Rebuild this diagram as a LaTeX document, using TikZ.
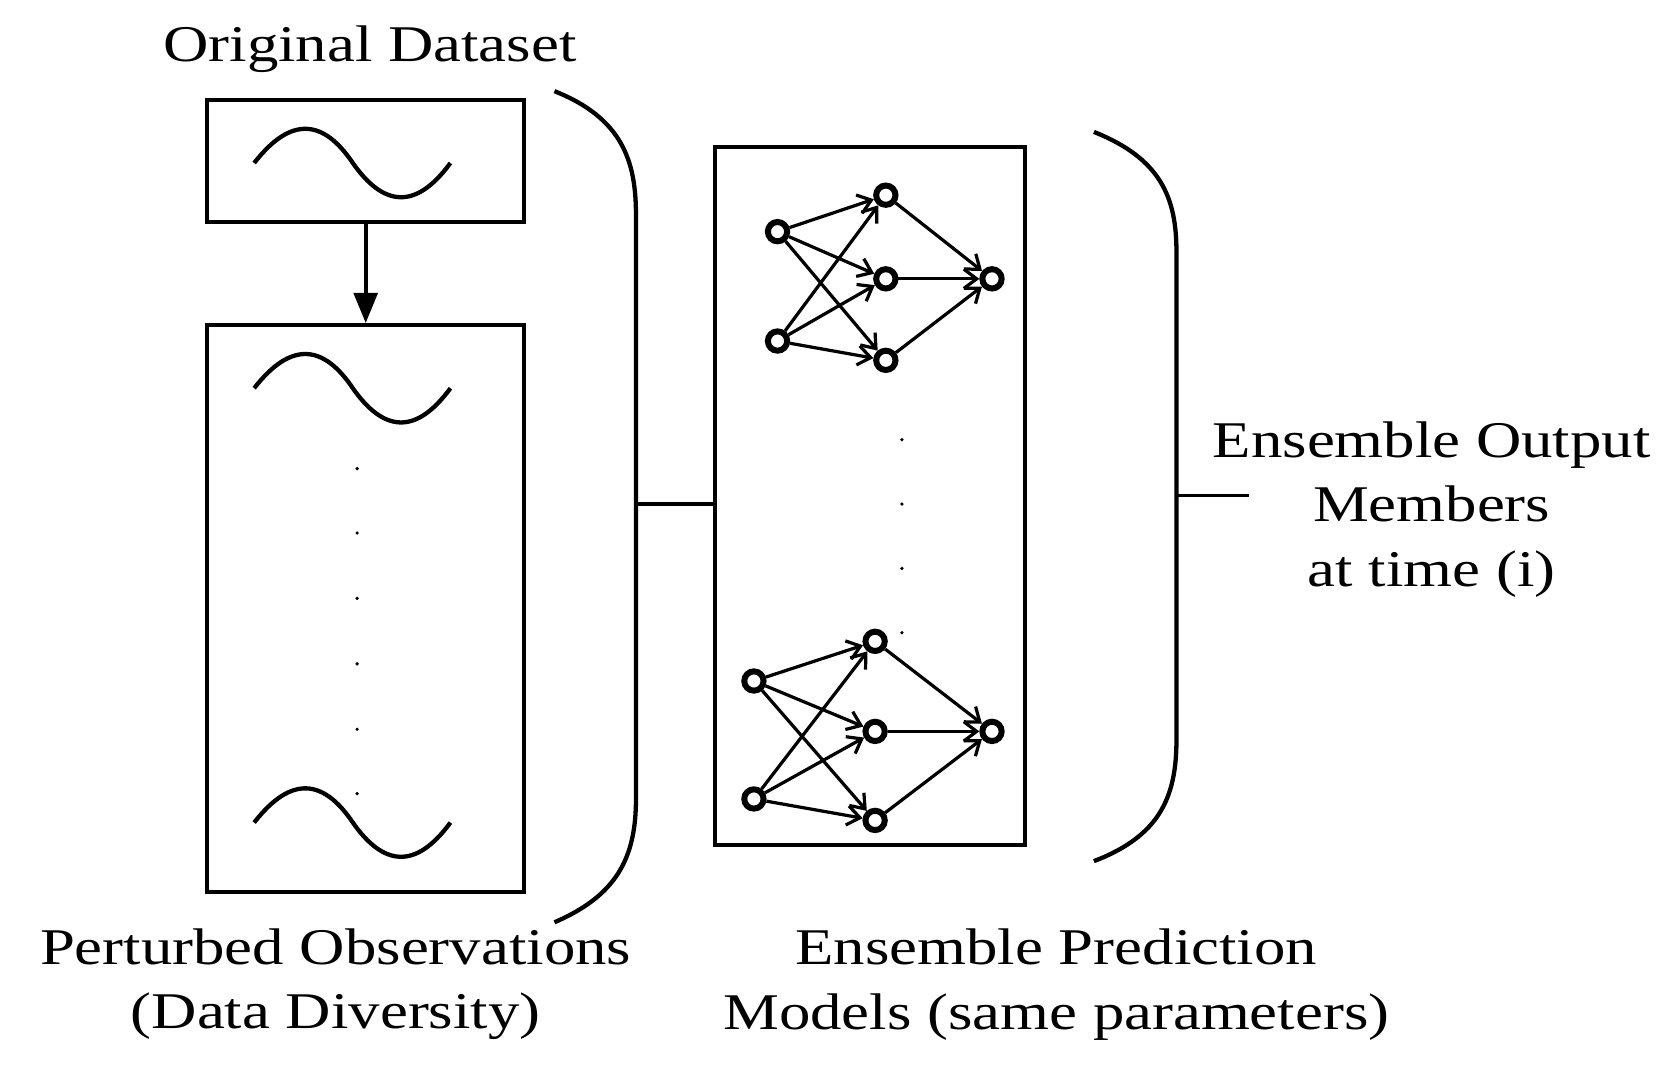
\documentclass[tikz,border=0pt]{standalone}
\usepackage{fontspec}
\setmainfont{Liberation Serif}[FakeStretch=1.22]
\usetikzlibrary{arrows.meta}
\begin{document}
\begin{tikzpicture}[x=0.5pt,y=-0.5pt,line width=1.6pt,
  lbl/.style={font=\fontsize{24}{30}\selectfont,align=center},
  box/.style={draw,line width=1.8pt},
  neu/.style={circle,draw,line width=2.8pt,minimum size=9pt,inner sep=0pt},
  con/.style={line width=1.5pt,-{Straight Barb[length=6pt,width=9pt]}},
  dot/.style={circle,fill,inner sep=0.6pt}]
\useasboundingbox (0,0) rectangle (1560,1001);
\def\wave#1#2{\draw[line width=2pt] (#1,#2) .. controls (#1+35,#2-45) and (#1+65,#2-40) .. (#1+92,#2) .. controls (#1+120,#2+40) and (#1+150,#2+45) .. (#1+183,#2);}
\node[lbl] (od) at (345,46) {Original Dataset};
\node[box,minimum width=148pt,minimum height=57pt] (b1) at (341,150) {};
\wave{237}{152}
\node[box,minimum width=148pt,minimum height=264.5pt] (b2) at (341,567.5) {};
\wave{237}{362}
\wave{237}{767}
\foreach \y [count=\i] in {437,497,558,619,680,740} \node[dot] (d\i) at (333,\y) {};
\draw[line width=1.8pt,-{Triangle[length=14pt,width=11pt]}] (b1.south) -- (b2.north);
% bracket 1
\coordinate (p1) at (517,85); \coordinate (p2) at (517,860);
\draw[line width=2pt] (p1) .. controls (580,110) and (593,150) .. (593,200) -- (593,745) .. controls (593,800) and (575,835) .. (p2);
\coordinate (t1) at (593,470);
\node[box,minimum width=144.5pt,minimum height=325.5pt] (b3) at (811.5,462.5) {};
\draw (t1) -- (b3.west |- t1);
% networks
\foreach \n/\xa/\ya/\yb/\xh/\ha/\hb/\hc/\xo/\yo in {a/725/216/318/826/182/260/336/925/260, b/703/635/745/816/598/682/765/925/682}{
  \node[neu] (\n i1) at (\xa,\ya) {};
  \node[neu] (\n i2) at (\xa,\yb) {};
  \node[neu] (\n h1) at (\xh,\ha) {};
  \node[neu] (\n h2) at (\xh,\hb) {};
  \node[neu] (\n h3) at (\xh,\hc) {};
  \node[neu] (\n o) at (\xo,\yo) {};
  \foreach \i in {1,2} \foreach \h in {1,2,3} \draw[con] (\n i\i) -- (\n h\h);
  \foreach \h in {1,2,3} \draw[con] (\n h\h) -- (\n o);
}
\foreach \y [count=\i] in {410,470,530,590} \node[dot] (e\i) at (841,\y) {};
% bracket 2
\coordinate (q1) at (1020,123); \coordinate (q2) at (1020,803);
\draw[line width=2pt] (q1) .. controls (1083,148) and (1097,185) .. (1097,235) -- (1097,690) .. controls (1097,745) and (1080,780) .. (q2);
\coordinate (t2) at (1097,462); \coordinate (t3) at (1165,462);
\draw (t2) -- (t3);
\node[lbl,anchor=north] (eo) at (1335,385) {Ensemble Output\\Members\\at time (i)};
\node[lbl] (po) at (313,918) {Perturbed Observations\\(Data Diversity)};
\node[lbl] (ep) at (985,918) {Ensemble Prediction\\Models (same parameters)};
\end{tikzpicture}
\end{document}
